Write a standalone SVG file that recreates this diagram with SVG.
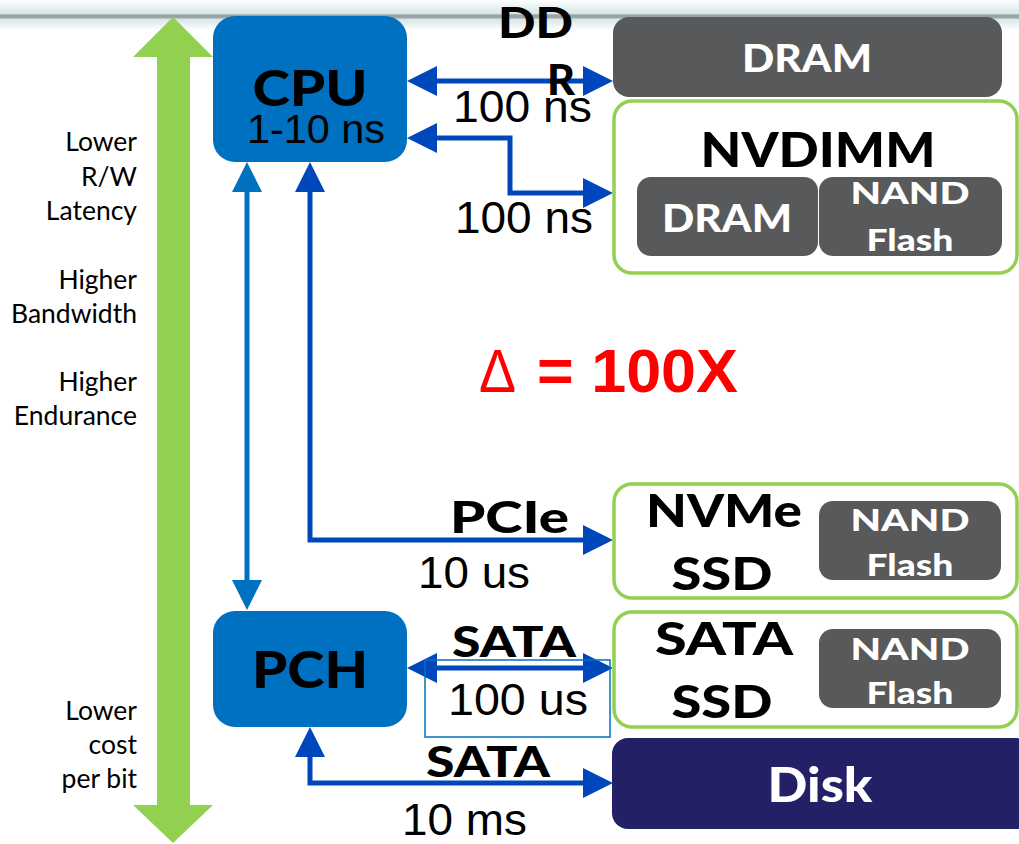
<svg xmlns="http://www.w3.org/2000/svg" width="1019" height="844" viewBox="0 0 1019 844">
<defs>
<linearGradient id="band" x1="0" y1="0" x2="0" y2="1">
<stop offset="0" stop-color="#ffffff"/>
<stop offset="0.45" stop-color="#d7e6e8"/>
<stop offset="0.5" stop-color="#9aa3a3"/>
<stop offset="0.58" stop-color="#9aa3a3"/>
<stop offset="0.65" stop-color="#d7e6e8"/>
<stop offset="1" stop-color="#ffffff"/>
</linearGradient>
<marker id="ah" markerUnits="userSpaceOnUse" markerWidth="30" markerHeight="30" viewBox="0 0 30 30" refX="20" refY="15" orient="auto-start-reverse">
<path d="M0,0 L30,15 L0,30 z" fill="#0047bb"/>
</marker>
<marker id="ahl" markerUnits="userSpaceOnUse" markerWidth="30" markerHeight="30" viewBox="0 0 30 30" refX="20" refY="15" orient="auto-start-reverse">
<path d="M0,0 L30,15 L0,30 z" fill="#0070c0"/>
</marker>
</defs>
<style>
.cpu{fill:#0070c0}
.gray{fill:#58595b}
.grn{fill:#ffffff;stroke:#92d050;stroke-width:3.5}
.disk{fill:#232066}
.conn{fill:none;stroke:#0047bb;stroke-width:5;marker-start:url(#ah);marker-end:url(#ah)}
.connl{fill:none;stroke:#0070c0;stroke-width:5;marker-start:url(#ahl);marker-end:url(#ahl)}
.b{font-family:Lato,"Liberation Sans",sans-serif;font-weight:900}
.bw{font-family:Lato,"Liberation Sans",sans-serif;font-weight:900;fill:#ffffff}
.a{font-family:"Liberation Sans",Arial,sans-serif;fill:#000000}
.side{font-family:Lato,"Liberation Sans",sans-serif;font-size:26.5px;fill:#000000;text-anchor:end}
</style>
<rect x="0" y="0" width="1019" height="30" fill="url(#band)"/>
<g id="green-arrow">
<polygon points="173,17 213,57 190,57 190,805 213,805 173,843 133,805 157,805 157,57 133,57" fill="#92d050"/>
</g>
<g id="side-labels">
<text class="side" x="137" y="151">Lower</text>
<text class="side" x="137" y="186">R/W</text>
<text class="side" x="137" y="220">Latency</text>
<text class="side" x="137" y="289">Higher</text>
<text class="side" x="137" y="323">Bandwidth</text>
<text class="side" x="137" y="391">Higher</text>
<text class="side" x="137" y="425">Endurance</text>
<text class="side" x="137" y="720">Lower</text>
<text class="side" x="137" y="754">cost</text>
<text class="side" x="137" y="788">per bit</text>
</g>
<g id="connectors">
<path class="conn" d="M417,81 H603"/>
<path class="conn" d="M417,138 H510 V193 H603"/>
<path class="connl" d="M247,172 V600"/>
<path class="conn" d="M310,172 V540 H603"/>
<path class="conn" d="M417,668 H603"/>
<path class="conn" d="M310,737 V783 H603"/>
<rect x="425" y="660" width="185" height="77" fill="none" stroke="#0070c0" stroke-width="1.5"/>
</g>
<g id="connector-labels">
<text class="b" x="498" y="38" font-size="42" textLength="75" lengthAdjust="spacingAndGlyphs">DD</text>
<text class="b" x="547" y="95" font-size="42" textLength="28" lengthAdjust="spacingAndGlyphs">R</text>
<text class="a" x="453" y="122" font-size="44" textLength="139" lengthAdjust="spacingAndGlyphs">100 ns</text>
<text class="a" x="455" y="233" font-size="44" textLength="138" lengthAdjust="spacingAndGlyphs">100 ns</text>
<text class="b" x="450" y="533" font-size="44" textLength="119" lengthAdjust="spacingAndGlyphs">PCIe</text>
<text class="a" x="418" y="588" font-size="44" textLength="112" lengthAdjust="spacingAndGlyphs">10 us</text>
<text class="b" x="452" y="657" font-size="42" textLength="124" lengthAdjust="spacingAndGlyphs">SATA</text>
<text class="a" x="448" y="715" font-size="44" textLength="140" lengthAdjust="spacingAndGlyphs">100 us</text>
<text class="b" x="426" y="777" font-size="42" textLength="124" lengthAdjust="spacingAndGlyphs">SATA</text>
<text class="a" x="402" y="835" font-size="44" textLength="125" lengthAdjust="spacingAndGlyphs">10 ms</text>
</g>
<g id="cpu">
<rect class="cpu" x="213" y="16" width="194" height="146" rx="22"/>
<text class="b" x="310" y="106" font-size="49" text-anchor="middle" textLength="115" lengthAdjust="spacingAndGlyphs">CPU</text>
<text class="a" x="316" y="143" font-size="40" text-anchor="middle" textLength="138" lengthAdjust="spacingAndGlyphs">1-10 ns</text>
</g>
<g id="pch">
<rect class="cpu" x="213" y="611" width="194" height="116" rx="22"/>
<text class="b" x="310" y="688" font-size="51" text-anchor="middle" textLength="116" lengthAdjust="spacingAndGlyphs">PCH</text>
</g>
<g id="dram">
<rect class="gray" x="613" y="17" width="389" height="80" rx="16"/>
<text class="bw" x="807" y="72" font-size="38" text-anchor="middle" textLength="130" lengthAdjust="spacingAndGlyphs">DRAM</text>
</g>
<g id="nvdimm">
<rect class="grn" x="614" y="101" width="403" height="172" rx="18"/>
<text class="b" x="818" y="167" font-size="48" text-anchor="middle" textLength="235" lengthAdjust="spacingAndGlyphs">NVDIMM</text>
<g id="nvdimm-dram">
<rect class="gray" x="637" y="177" width="181" height="79" rx="14"/>
<text class="bw" x="727" y="232" font-size="38" text-anchor="middle" textLength="130" lengthAdjust="spacingAndGlyphs">DRAM</text>
</g>
<g id="nvdimm-nand">
<rect class="gray" x="819" y="177" width="183" height="79" rx="14"/>
<text class="bw" x="910" y="204" font-size="31" text-anchor="middle" textLength="119" lengthAdjust="spacingAndGlyphs">NAND</text>
<text class="bw" x="910" y="251" font-size="31" text-anchor="middle" textLength="87" lengthAdjust="spacingAndGlyphs">Flash</text>
</g>
</g>
<g id="nvme-ssd">
<rect class="grn" x="614" y="484" width="403" height="114" rx="18"/>
<text class="b" x="724" y="527" font-size="46" text-anchor="middle" textLength="156" lengthAdjust="spacingAndGlyphs">NVMe</text>
<text class="b" x="722" y="590" font-size="46" text-anchor="middle" textLength="101" lengthAdjust="spacingAndGlyphs">SSD</text>
<g id="nvme-nand">
<rect class="gray" x="819" y="501" width="182" height="79" rx="14"/>
<text class="bw" x="910" y="531" font-size="31" text-anchor="middle" textLength="119" lengthAdjust="spacingAndGlyphs">NAND</text>
<text class="bw" x="910" y="576" font-size="31" text-anchor="middle" textLength="87" lengthAdjust="spacingAndGlyphs">Flash</text>
</g>
</g>
<g id="sata-ssd">
<rect class="grn" x="614" y="612" width="403" height="115" rx="18"/>
<text class="b" x="724" y="655" font-size="46" text-anchor="middle" textLength="138" lengthAdjust="spacingAndGlyphs">SATA</text>
<text class="b" x="722" y="718" font-size="46" text-anchor="middle" textLength="101" lengthAdjust="spacingAndGlyphs">SSD</text>
<g id="sata-nand">
<rect class="gray" x="819" y="629" width="182" height="79" rx="14"/>
<text class="bw" x="910" y="660" font-size="31" text-anchor="middle" textLength="119" lengthAdjust="spacingAndGlyphs">NAND</text>
<text class="bw" x="910" y="704" font-size="31" text-anchor="middle" textLength="87" lengthAdjust="spacingAndGlyphs">Flash</text>
</g>
</g>
<g id="disk">
<rect class="disk" x="612" y="738" width="420" height="91" rx="16"/>
<text class="bw" x="820" y="802" font-size="48" text-anchor="middle" textLength="105" lengthAdjust="spacingAndGlyphs">Disk</text>
</g>
<g id="delta">
<text x="479" y="392" fill="#ff0000" font-family="'Liberation Sans',Arial,sans-serif" font-size="61" textLength="37" lengthAdjust="spacingAndGlyphs">Δ</text>
<text x="537" y="392" fill="#ff0000" font-family="'Liberation Sans',Arial,sans-serif" font-size="61" font-weight="bold" textLength="201" lengthAdjust="spacingAndGlyphs">= 100X</text>
</g>
</svg>
